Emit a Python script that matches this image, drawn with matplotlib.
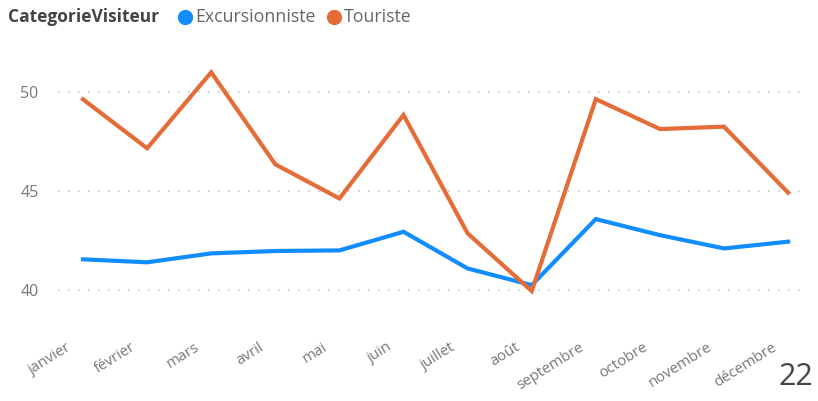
import matplotlib
matplotlib.use("Agg")
import matplotlib.pyplot as plt
from matplotlib.lines import Line2D
import matplotlib.transforms as mtransforms

plt.rcParams['font.family'] = ['Open Sans', 'DejaVu Sans']

mois = ["janvier", "février", "mars", "avril", "mai", "juin", "juillet",
        "août", "septembre", "octobre", "novembre", "décembre"]
excursionniste = [41.55, 41.40, 41.85, 41.97, 42.00, 42.94, 41.09, 40.25,
                  43.58, 42.77, 42.10, 42.44]
touriste = [49.62, 47.15, 50.98, 46.34, 44.62, 48.83, 42.86, 39.95,
            49.63, 48.12, 48.24, 44.91]
yticks = [40, 45, 50]

c_exc = "#118DFF"
c_tou = "#E66C37"

W, H = 818, 401
fig = plt.figure(figsize=(W / 100, H / 100), dpi=100)
ax = fig.add_axes([58 / W, 1 - 298 / H, 750 / W, 234 / H])
x = list(range(len(mois)))
ax.plot(x, excursionniste, color=c_exc, lw=3, solid_joinstyle='miter', zorder=3)
ax.plot(x, touriste, color=c_tou, lw=3, solid_joinstyle='miter', zorder=3)

ax.set_xlim(-0.39, 11.31)
ax.set_ylim(39.6, 51.4)
ax.set_yticks(yticks)
ax.set_yticklabels([str(v) for v in yticks], color="#777777", fontsize=11.5)
for v in yticks:
    ax.axhline(v, color="#C8C8C8", lw=1.2, ls=(0, (1, 5)), zorder=1)
for s in ax.spines.values():
    s.set_visible(False)
ax.tick_params(axis='y', length=0, pad=14)
ax.tick_params(axis='x', length=0)
ax.set_xticks(x)
ax.set_xticklabels(mois, rotation=32, ha='right', va='top', rotation_mode='anchor',
                   color="#777777", fontsize=10.8)
offset = mtransforms.ScaledTranslation(-17 / 100, -37 / 100, fig.dpi_scale_trans)
for lab in ax.get_xticklabels():
    lab.set_transform(lab.get_transform() + offset)

# legend
ly = 1 - 17 / H
fig.text(8 / W, ly, "CategorieVisiteur", fontsize=12.5, fontweight='bold',
         color="#444444", va='center', ha='left')
fig.add_artist(Line2D([185 / W], [ly], marker='o', markersize=10,
                      color=c_exc, transform=fig.transFigure))
fig.text(195 / W, ly, "Excursionniste", fontsize=12.8, color="#666666",
         va='center', ha='left')
fig.add_artist(Line2D([334 / W], [ly], marker='o', markersize=10,
                      color=c_tou, transform=fig.transFigure))
fig.text(344 / W, ly, "Touriste", fontsize=12.8, color="#666666",
         va='center', ha='left')

fig.text(813 / W, 1 - 377 / H, "22", fontsize=22, color="#444444",
         va='center', ha='right')

fig.savefig("out.png", dpi=100)
